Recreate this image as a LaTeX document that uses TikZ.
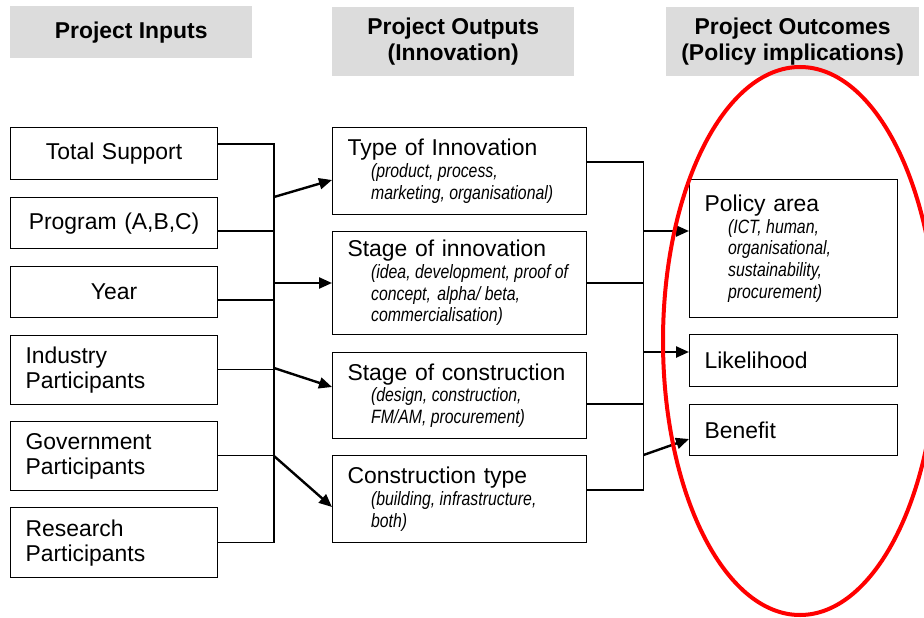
\documentclass[tikz,border=0pt]{standalone}
\usepackage{fontspec}
\setmainfont{Liberation Sans}
\newfontfamily\narrowsans[FakeStretch=0.82]{Liberation Sans}
\usepackage{tikz}
\usetikzlibrary{arrows.meta,positioning}
\definecolor{piHead}{HTML}{DCDCDC}
\definecolor{piRing}{HTML}{FF0000}
\newcommand{\pinote}{\narrowsans\itshape\fontsize{19.3}{21.7}\selectfont
  \frenchspacing\spaceskip=4.4pt\leftskip=23.5pt}
\tikzset{
  pi diagram/.style={x=1pt, y=-1pt, font=\fontsize{22.9}{25}\selectfont},
  pi box/.style={draw=black, line width=1.2pt, anchor=north west,
    inner xsep=15pt, inner ysep=2pt, align=left},
  pi head/.style={fill=piHead, anchor=north west, inner sep=0pt, align=center,
    font=\bfseries\fontsize{22.9}{25.5}\selectfont},
  pi line/.style={draw=black, line width=1.2pt},
  pi arrow/.style={-{Triangle[length=13pt,width=11pt]}, line width=2.4pt},
  pi ring/.style={draw=piRing, line width=4pt}
}

\begin{document}
\begin{tikzpicture}[pi diagram]
\useasboundingbox (0,0) rectangle (924,618);
% column headings
\node[pi head,minimum width=242pt,minimum height=52pt] (hin) at (10,6) {Project Inputs};
\node[pi head,minimum width=242pt,minimum height=69pt] (hout) at (332,7) {Project Outputs\\(Innovation)};
\node[pi head,minimum width=253pt,minimum height=69pt] (houtc) at (666,7) {Project Outcomes\\(Policy implications)};
% inputs
\node[pi box,text width=177pt,minimum height=52pt,align=center] (total) at (10,127) {Total Support};
\node[pi box,text width=177pt,minimum height=51pt,align=center] (prog) at (10,197) {Program (A,B,C)};
\node[pi box,text width=177pt,minimum height=51pt,align=center] (year) at (10,266) {Year};
\node[pi box,text width=177pt,minimum height=69pt] (indus) at (10,335) {Industry\\Participants};
\node[pi box,text width=177pt,minimum height=69pt] (govt) at (10,421) {Government\\Participants};
\node[pi box,text width=177pt,minimum height=70pt] (res) at (10,507) {Research\\Participants};
% outputs
\node[pi box,text width=224pt,minimum height=87pt] (tinn) at (332,127)
  {Type of Innovation\par{\pinote (product, process,\\marketing, organisational)\par}};
\node[pi box,text width=224pt,minimum height=103pt] (sinn) at (332,231)
  {Stage of innovation\par{\pinote (idea, development, proof of\\concept,\hspace{2pt} alpha/ beta,\\commercialisation)\par}};
\node[pi box,text width=224pt,minimum height=86pt] (scon) at (332,352)
  {Stage of construction\par{\pinote (design, construction,\\FM/AM, procurement)\par}};
\node[pi box,text width=224pt,minimum height=87pt] (ctyp) at (332,455)
  {Construction type\par{\pinote (building, infrastructure,\\both)\par}};
% outcomes
\node[pi box,text width=178pt,minimum height=138pt] (parea) at (689,179)
  {Policy area\par{\pinote (ICT, human,\\organisational,\\sustainability,\\procurement)\par}};
\node[pi box,text width=178pt,minimum height=52pt] (likely) at (689,334) {Likelihood};
\node[pi box,text width=178pt,minimum height=51pt] (benef) at (689,404) {Benefit};

% left bus
\coordinate (lbus) at (274,144);
\draw[pi line] (total.east |- lbus) -- (lbus) |- (res.east);
\foreach \n/\y in {prog/231, year/300, indus/369.5, govt/455.5}
  \draw[pi line] (\n.east |- 0,\y) -- (lbus |- 0,\y);
\draw[pi arrow] (lbus |- 0,197) -- (tinn.west |- 0,180);
\draw[pi arrow] (lbus |- 0,283) -- (sinn.west |- 0,283);
\draw[pi arrow] (lbus |- 0,368) -- (scon.west |- 0,387);
\draw[pi arrow] (lbus |- 0,456) -- (ctyp.west |- 0,507);

% right bus
\coordinate (rbus) at (643.5,162);
\draw[pi line] (tinn.east |- rbus) -- (rbus) |- (ctyp.east |- 0,490);
\foreach \n/\y in {sinn/283, scon/404}
  \draw[pi line] (\n.east |- 0,\y) -- (rbus |- 0,\y);
\draw[pi arrow] (rbus |- 0,231) -- (parea.west |- 0,231);
\draw[pi arrow] (rbus |- 0,352) -- (likely.west |- 0,352);
\draw[pi arrow] (rbus |- 0,455) -- (benef.west |- 0,439);

\draw[pi ring] (800,341) ellipse [x radius=137, y radius=274];
\end{tikzpicture}
\end{document}
